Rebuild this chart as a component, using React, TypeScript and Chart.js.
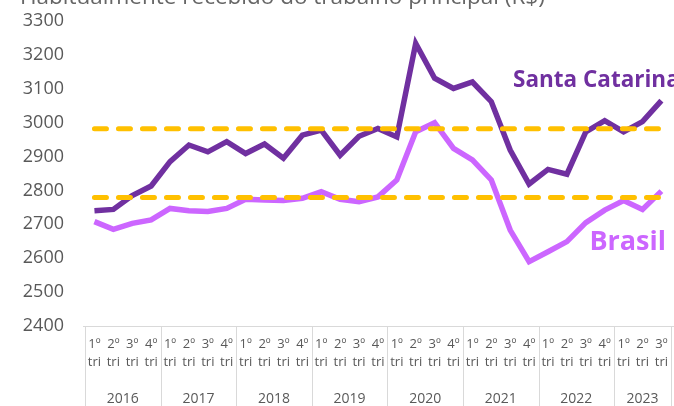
import React, { useEffect, useRef } from "react";
import { Chart, registerables } from "chart.js";

Chart.register(...registerables);

const chartTitle = "Habitualmente recebido do trabalho principal (R$)";
const years = ["2016", "2017", "2018", "2019", "2020", "2021", "2022", "2023"];
const quartersPerYear = [4, 4, 4, 4, 4, 4, 4, 3];
const quarterNames = ["1º", "2º", "3º", "4º"];
const quarterSuffix = "tri";

const santaCatarina = [
  2740, 2744, 2785, 2813, 2885, 2934, 2914, 2944, 2909, 2937,
  2895, 2963, 2978, 2904, 2960, 2983, 2958, 3234, 3131, 3101,
  3120, 3062, 2919, 2819, 2862, 2848, 2973, 3006, 2973, 3003,
  3065,
];
const brasil = [
  2708, 2685, 2703, 2713, 2747, 2740, 2738, 2747, 2774, 2772,
  2770, 2777, 2796, 2774, 2767, 2781, 2831, 2973, 3000, 2924,
  2890, 2831, 2683, 2590, 2619, 2649, 2705, 2742, 2770, 2744,
  2798,
];
const upperReference = 2982;
const lowerReference = 2779;

const yMin = 2400;
const yMax = 3300;
const yStep = 100;

const seriesNames = { sc: "Santa Catarina", br: "Brasil" };

const categoryLabels: string[][] = [];
years.forEach((y, yi) => {
  for (let q = 0; q < quartersPerYear[yi]; q++) {
    categoryLabels.push([quarterNames[q], quarterSuffix]);
  }
});

const TEXT = "#595959";
const SC_COLOR = "#7030A0";
const BR_COLOR = "#CC66FF";
const REF_COLOR = "#FFC000";
const FONT = "'Open Sans', 'DejaVu Sans', sans-serif";

const overlayPlugin = {
  id: "overlay",
  afterDraw(chart: any) {
    const ctx = chart.ctx;
    const x = chart.scales.x;
    const area = chart.chartArea;
    const catW = (area.right - area.left) / categoryLabels.length;
    ctx.save();
    // title (partially cropped)
    ctx.fillStyle = "#666666";
    ctx.font = `22.5px ${FONT}`;
    ctx.textAlign = "left";
    ctx.textBaseline = "alphabetic";
    ctx.fillText(chartTitle, 20, 4);

    // category box
    ctx.strokeStyle = "#d9d9d9";
    ctx.lineWidth = 1;
    ctx.beginPath();
    ctx.moveTo(area.left - 2, Math.round(area.bottom) + 0.5);
    ctx.lineTo(chart.width, Math.round(area.bottom) + 0.5);
    ctx.stroke();
    let start = 0;
    years.forEach((yr, yi) => {
      const n = quartersPerYear[yi];
      const left = x.getPixelForValue(start) - catW / 2;
      const right = x.getPixelForValue(start + n - 1) + catW / 2;
      ctx.beginPath();
      ctx.moveTo(Math.round(left) + 0.5, area.bottom);
      ctx.lineTo(Math.round(left) + 0.5, chart.height);
      ctx.moveTo(Math.round(right) + 0.5, area.bottom);
      ctx.lineTo(Math.round(right) + 0.5, chart.height);
      ctx.stroke();
      ctx.fillStyle = TEXT;
      ctx.font = `14px ${FONT}`;
      ctx.textAlign = "center";
      ctx.textBaseline = "middle";
      ctx.fillText(yr, (left + right) / 2, area.bottom + 73);
      start += n;
    });

    // series labels
    ctx.font = `bold 22.5px ${FONT}`;
    ctx.textAlign = "left";
    ctx.textBaseline = "alphabetic";
    ctx.fillStyle = SC_COLOR;
    ctx.fillText(seriesNames.sc, 513, 87);
    ctx.font = `bold 27px ${FONT}`;
    ctx.textAlign = "right";
    ctx.fillStyle = BR_COLOR;
    ctx.fillText(seriesNames.br, 666, 250);
    ctx.restore();
  },
};

export default function App() {
  const ref = useRef<HTMLCanvasElement | null>(null);
  useEffect(() => {
    if (!ref.current) return;
    const chart = new Chart(ref.current, {
      type: "line",
      data: {
        labels: categoryLabels,
        datasets: [
          {
            label: "upper",
            data: categoryLabels.map(() => upperReference),
            borderColor: REF_COLOR,
            borderWidth: 5,
            borderDash: [12, 12],
            borderCapStyle: "round",
            pointRadius: 0,
            order: 0,
          },
          {
            label: "lower",
            data: categoryLabels.map(() => lowerReference),
            borderColor: REF_COLOR,
            borderWidth: 5,
            borderDash: [12, 12],
            borderCapStyle: "round",
            pointRadius: 0,
            order: 1,
          },
          {
            label: seriesNames.sc,
            data: santaCatarina,
            borderColor: SC_COLOR,
            borderWidth: 5.5,
            pointRadius: 0,
            tension: 0,
            order: 2,
          },
          {
            label: seriesNames.br,
            data: brasil,
            borderColor: BR_COLOR,
            borderWidth: 5.5,
            pointRadius: 0,
            tension: 0,
            order: 3,
          },
        ],
      },
      options: {
        responsive: false,
        animation: false,
        layout: { padding: { top: 21, left: 0, right: 0, bottom: 0 } },
        plugins: {
          legend: { display: false },
          tooltip: { enabled: false },
          title: { display: false },
        },
        scales: {
          x: {
            type: "category",
            offset: true,
            grid: { display: false, drawTicks: false },
            border: { display: false },
            ticks: {
              autoSkip: false,
              maxRotation: 0,
              minRotation: 0,
              color: TEXT,
              font: { family: FONT, size: 13, lineHeight: 1.38 },
              padding: 9,
            },
            afterFit(s: any) {
              s.height = 80;
            },
          },
          y: {
            min: yMin,
            max: yMax,
            grid: { display: false, drawTicks: true, tickLength: 21 },
            border: { display: false },
            ticks: {
              stepSize: yStep,
              color: TEXT,
              font: { family: FONT, size: 18 },
              padding: 0,
              callback: (v: any) => String(v),
            },
            afterFit(s: any) {
              s.width = 85;
            },
          },
        },
      },
      plugins: [overlayPlugin],
    } as any);
    return () => chart.destroy();
  }, []);
  return (
    <div
      style={{
        position: "fixed",
        left: 0,
        top: 0,
        width: 674,
        height: 406,
        overflow: "hidden",
        background: "#ffffff",
      }}
    >
      <canvas ref={ref} width={677} height={406} style={{ display: "block" }} />
    </div>
  );
}
